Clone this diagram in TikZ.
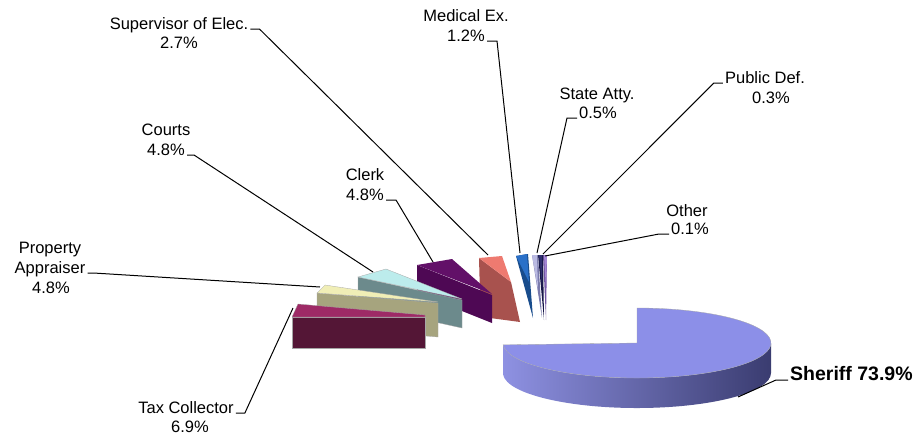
\documentclass[tikz,border=0pt]{standalone}
\usepackage{fontspec}
\setmainfont{Liberation Sans}
\usepackage{tikz}
\usetikzlibrary{calc, positioning}

\definecolor{taxTop}{RGB}{158,42,102}
\definecolor{taxSide}{RGB}{84,22,54}
\definecolor{propTop}{RGB}{240,238,182}
\definecolor{propSide}{RGB}{166,164,126}
\definecolor{courtTop}{RGB}{188,236,236}
\definecolor{courtSide}{RGB}{108,138,140}
\definecolor{clerkTop}{RGB}{98,16,104}
\definecolor{clerkSide}{RGB}{78,8,84}
\definecolor{supTop}{RGB}{238,122,112}
\definecolor{supSide}{RGB}{168,82,78}
\definecolor{medTop}{RGB}{42,112,200}
\definecolor{medSide}{RGB}{24,76,140}
\definecolor{staTop}{RGB}{186,186,226}
\definecolor{staSide}{RGB}{122,122,172}
\definecolor{pubTop}{RGB}{46,46,110}
\definecolor{pubSide}{RGB}{22,22,72}
\definecolor{othTop}{RGB}{164,134,212}
\definecolor{othSide}{RGB}{112,84,162}
\definecolor{sherTop}{RGB}{140,143,232}
\definecolor{sherL}{RGB}{142,145,226}
\definecolor{sherM}{RGB}{122,125,208}
\definecolor{sherR}{RGB}{58,60,112}

\begin{document}
\begin{tikzpicture}[
        x=1pt, y=-1pt,
        lbl/.style={anchor=base, inner xsep=2pt, inner ysep=0pt, font=\fontsize{16.5}{19}\selectfont},
        biglbl/.style={anchor=base west, inner xsep=2pt, inner ysep=0pt, font=\bfseries\fontsize{19.5}{23}\selectfont},
        leader/.style={draw=black, line width=1pt},
        edge/.style={draw=black!35, line width=0.3pt}
    ]
        \path[use as bounding box] (0,0) rectangle (918,440);

        % exploded slices, back to front
        \fill[othSide] (543,255) -- (547,255) -- (546,320) -- cycle;
        \fill[othTop] (544,255) -- (547,255) -- (546,290) -- cycle;
        \fill[pubSide] (538,255) -- (543,255) -- (544,320) -- cycle;
        \fill[pubTop] (539,255) -- (542,255) -- (542,285) -- cycle;
        \fill[staSide] (532,255) -- (538,255) -- (542,318) -- cycle;
        \fill[staTop] (532,255) -- (537,255) -- (538,290) -- cycle;
        \fill[medSide] (516,256) -- (528,254) -- (533,318) -- cycle;
        \fill[medTop] (516,256) -- (527,254) -- (529,282) -- cycle;
        \fill[supSide] (479,258) -- (511,282) -- (520,322) -- (490,318) -- (480,295) -- cycle;
        \fill[supTop] (479,258) -- (502,256) -- (511,282) -- cycle;
        \fill[clerkSide] (417,265) -- (492,295) -- (492,323) -- (417,293) -- cycle;
        \fill[clerkTop] (417,265) -- (452,259) -- (492,294) -- cycle;
        \fill[courtSide, edge] (358,277) -- (462,300) -- (462,328) -- (358,305) -- cycle;
        \fill[courtTop, edge] (358,277) -- (386,269) -- (462,299) -- cycle;
        \fill[propSide, edge] (317,293) -- (438,303) -- (438,337) -- (317,327) -- cycle;
        \fill[propTop, edge] (317,293) -- (325,285) -- (438,302) -- cycle;
        \fill[taxSide, edge] (292,317) -- (425,317) -- (425,348) -- (292,348) -- cycle;
        \fill[taxTop, edge] (292,317) -- (298,304) -- (425,315) -- (425,317) -- cycle;

        % sheriff disc
        \coordinate (sherC) at (637,343);
        \shade[left color=sherL, middle color=sherM, right color=sherR]
            ($(sherC)+(183:134pt and 35pt)$) -- ++(0,30)
            arc[start angle=183, end angle=360, x radius=134pt, y radius=35pt] -- ++(0,-30)
            arc[start angle=360, end angle=183, x radius=134pt, y radius=35pt] -- cycle;
        \filldraw[fill=sherTop, edge] (sherC) -- ++(183:134pt and 35pt)
            arc[start angle=183, end angle=450, x radius=134pt, y radius=35pt] -- cycle;

        % leader ends on the slices
        \coordinate (taxTip) at (293,308);
        \coordinate (propTip) at (320,287);
        \coordinate (courtTip) at (373,272);
        \coordinate (clerkTip) at (433,262);
        \coordinate (supTip) at (488,255);
        \coordinate (medTip) at (520,253);
        \coordinate (staTip) at (537,253);
        \coordinate (pubTip) at (543,254);
        \coordinate (othTip) at (545,256);
        \coordinate (sherTip) at (738,397);

        % labels
        \node[lbl] (supName) at (179,29) {Supervisor of Elec.};
        \node[lbl] (supVal) at (179,48) {2.7\%};
        \node[lbl] (medName) at (466,21) {Medical Ex.};
        \node[lbl] (medVal) at (466,41) {1.2\%};
        \node[lbl] (staName) at (597,99) {State Atty.};
        \node[lbl] (staVal) at (598,118) {0.5\%};
        \node[lbl] (pubName) at (765,83) {Public Def.};
        \node[lbl] (pubVal) at (771,103) {0.3\%};
        \node[lbl] (othName) at (687,216) {Other};
        \node[lbl] (othVal) at (690,234) {0.1\%};
        \node[lbl] (clerkName) at (365,180) {Clerk};
        \node[lbl] (clerkVal) at (365,200) {4.8\%};
        \node[lbl] (courtName) at (166,135) {Courts};
        \node[lbl] (courtVal) at (166,155) {4.8\%};
        \node[lbl] (propName) at (50,253) {Property};
        \node[lbl] (propMid) at (50,273) {Appraiser};
        \node[lbl] (propVal) at (51,293) {4.8\%};
        \node[lbl] (taxName) at (186,413) {Tax Collector};
        \node[lbl] (taxVal) at (190,432) {6.9\%};
        \node[biglbl] (sherName) at (788,380) {Sheriff 73.9\%};

        % leaders
        \draw[leader] (supName.base east) -- ++(9,0) -- (supTip);
        \draw[leader] (medVal.base east) -- ++(10,0) -- (medTip);
        \draw[leader] (staVal.base west) -- ++(-10,0) -- (staTip);
        \draw[leader] (pubName.base west) -- ++(-9,0) -- (pubTip);
        \draw[leader] (othVal.base west) -- ++(-10,0) -- (othTip);
        \draw[leader] (clerkVal.base east) -- ++(10,0) -- (clerkTip);
        \draw[leader] (courtVal.base east) -- ++(7,0) -- (courtTip);
        \draw[leader] (propMid.base east) -- ++(6,0) -- (propTip);
        \draw[leader] (taxName.base east) -- ++(9,0) -- (taxTip);
        \draw[leader] (sherName.base west) -- ++(-12,0) -- (sherTip);
    \end{tikzpicture}
\end{document}
